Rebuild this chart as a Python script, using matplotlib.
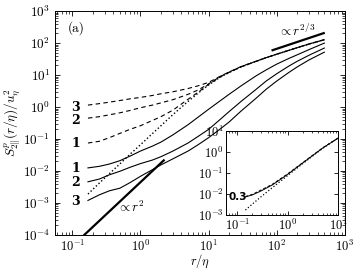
import numpy as np
import matplotlib
matplotlib.use("Agg")
import matplotlib.pyplot as plt

plt.rcParams["mathtext.fontset"] = "cm"
plt.rcParams["font.family"] = "serif"
plt.rcParams["font.serif"] = ["cmr10", "DejaVu Serif"]
plt.rcParams["axes.formatter.use_mathtext"] = True

# separation r/eta
r = [0.17, 0.25, 0.35, 0.5, 0.7, 1, 1.5, 2, 3, 5, 7, 10, 15, 20, 30,
     50, 70, 100, 150, 200, 300, 500]
# reference (noise free) structure function
s_ref = [0.0019, 0.0042, 0.0082, 0.0167, 0.033, 0.066, 0.148, 0.26, 0.58, 1.5,
         2.7, 4.9, 8.7, 12, 18, 27, 35, 45, 59, 72, 94, 128]
# raw (noisy) structure functions, cases 1-3
s_raw1 = [0.075, 0.085, 0.11, 0.15, 0.2, 0.26, 0.38, 0.5, 0.8, 1.75,
          2.9, 5.1, 8.9, 12.1, 18, 27, 35, 45, 59, 72, 94, 128]
s_raw2 = [0.45, 0.5, 0.57, 0.66, 0.78, 0.95, 1.15, 1.35, 1.7, 2.5,
          3.4, 5.3, 9.1, 12.3, 18.3, 27, 35, 45, 59, 72, 94, 128]
s_raw3 = [1.15, 1.28, 1.42, 1.6, 1.8, 2.0, 2.3, 2.6, 3.0, 3.8,
          4.6, 5.9, 9.3, 12.5, 18.5, 27.2, 35, 45, 59, 72, 94, 128]
# filtered structure functions, cases 1-3
s_flt1 = [0.0125, 0.014, 0.0165, 0.021, 0.029, 0.042, 0.06, 0.08, 0.135, 0.28,
          0.48, 0.85, 1.6, 2.5, 4.6, 9.5, 14.5, 22, 33, 43, 63, 100]
s_flt2 = [0.0046, 0.0056, 0.0076, 0.0098, 0.013, 0.017, 0.022, 0.028, 0.042, 0.075,
          0.12, 0.2, 0.42, 0.72, 1.5, 3.6, 6.5, 11, 19, 27, 42, 70]
s_flt3 = [0.0012, 0.0018, 0.0024, 0.0029, 0.0043, 0.0068, 0.011, 0.0155, 0.024, 0.042,
          0.066, 0.11, 0.21, 0.34, 0.75, 1.9, 3.6, 6.5, 12, 18, 30, 52]

# power-law guide lines
p2_x = [0.15, 2.2]
p2_y = [1.0e-4, 0.0215]
p23_x = [87, 490]
p23_y = [60, 205]

# inset: threshold 0.3
ri = [0.145, 0.2, 0.3, 0.5, 1, 2, 5, 10]
si_ref = [0.0017, 0.0033, 0.0075, 0.02, 0.075, 0.28, 1.5, 4.5]
si_flt = [0.0072, 0.009, 0.014, 0.027, 0.085, 0.3, 1.55, 4.5]
si_raw = [0.0075, 0.0095, 0.0155, 0.029, 0.09, 0.31, 1.58, 4.6]

fig = plt.figure(figsize=(3.6, 2.71), dpi=100)
ax = fig.add_axes([0.153, 0.133, 0.805, 0.826])

for s in (s_raw1, s_raw2, s_raw3):
    ax.plot(r, s, "k--", lw=0.8, dashes=(4, 3))
for s in (s_flt1, s_flt2, s_flt3):
    ax.plot(r, s, "k-", lw=0.8)
ax.plot(r, s_ref, "k:", lw=1.0)
ax.plot(p2_x, p2_y, "k-", lw=1.6)
ax.plot(p23_x, p23_y, "k-", lw=1.6)

ax.set_xscale("log")
ax.set_yscale("log")
ax.set_xlim(0.056, 1000)
ax.set_ylim(1e-4, 1e3)
ax.set_xticks([1e-1, 1e0, 1e1, 1e2, 1e3])
ax.set_yticks([1e-4, 1e-3, 1e-2, 1e-1, 1e0, 1e1, 1e2, 1e3])
ax.tick_params(which="both", direction="in", top=True, right=True, labelsize=9.5)
ax.tick_params(axis="x", pad=2.5, labelsize=9)
ax.tick_params(which="major", length=3.5, width=0.6)
ax.tick_params(which="minor", length=2, width=0.5)
for sp in ax.spines.values():
    sp.set_linewidth(0.7)
ax.set_xlabel(r"$r/\eta$", fontsize=9)
ax.xaxis.set_label_coords(0.5, -0.08)
ax.set_ylabel(r"$S^p_{2\|}(r/\eta)/u_\eta^2$", fontsize=9.5, labelpad=0)

ax.text(0.115, 300, "(a)", fontsize=9.5, ha="center", va="center")
ax.text(196, 250, r"$\propto r^{2/3}$", fontsize=9.5, ha="center", va="center")
ax.text(0.72, 7.5e-4, r"$\propto r^2$", fontsize=9.5, ha="center", va="center")
lx = 0.113
for y, t in [(1.0, "3"), (0.37, "2"), (0.07, "1"),
             (0.012, "1"), (0.0045, "2"), (0.00115, "3")]:
    ax.text(lx, y, t, fontsize=9, fontweight="bold", family="DejaVu Serif",
            ha="center", va="center")

# inset
axi = fig.add_axes([0.628, 0.207, 0.311, 0.31])
axi.plot(ri, si_raw, "k--", lw=0.7, dashes=(3, 2))
axi.plot(ri, si_flt, "k-", lw=0.7)
axi.plot(ri, si_ref, "k:", lw=0.9)
axi.set_xscale("log")
axi.set_yscale("log")
axi.set_xlim(0.06, 10)
axi.set_ylim(1e-3, 10)
axi.set_xticks([1e-1, 1e0, 1e1])
axi.set_yticks([1e-3, 1e-2, 1e-1, 1e0, 1e1])
axi.tick_params(which="both", direction="in", top=True, right=True, labelsize=9, pad=2)
axi.tick_params(which="major", length=3, width=0.6)
axi.tick_params(which="minor", length=1.5, width=0.5)
for sp in axi.spines.values():
    sp.set_linewidth(0.7)
axi.text(0.1, 0.0068, "0.3", fontsize=7.5, fontweight="bold", family="DejaVu Sans",
         ha="center", va="center")

fig.savefig("out.png", dpi=100)
